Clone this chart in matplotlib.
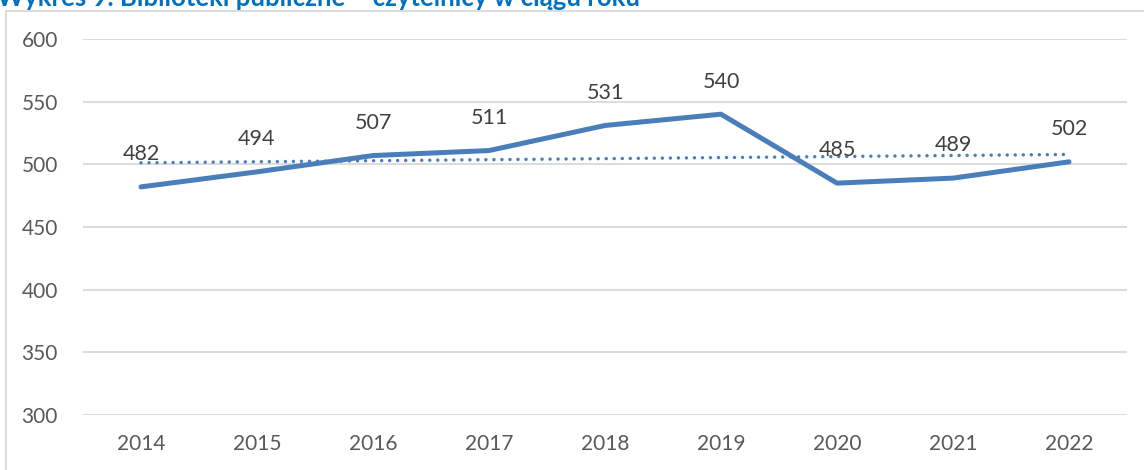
import matplotlib.pyplot as plt
import numpy as np
from matplotlib.patches import Rectangle

# dane z wykresu
years = ["2014", "2015", "2016", "2017", "2018", "2019", "2020", "2021", "2022"]
readers = [482, 494, 507, 511, 531, 540, 485, 489, 502]
title = "Wykres 9. Biblioteki publiczne – czytelnicy w ciągu roku"

plt.rcParams['font.family'] = ['Lato', 'DejaVu Sans']

fig = plt.figure(figsize=(11.44, 4.70), dpi=100)
ax = fig.add_axes([83 / 1144, 1 - 415 / 470, 1044 / 1144, 376 / 470])

x = np.arange(len(years))
line_color = "#4A7EBB"

# linia trendu (liniowa, jak w Excelu)
coef = np.polyfit(x, readers, 1)
ax.plot(x, np.polyval(coef, x), color=line_color, lw=2.5, linestyle=(0, (0.01, 2.3)),
        dash_capstyle="round", zorder=2)

ax.plot(x, readers, color=line_color, lw=3.6, solid_capstyle="round",
        solid_joinstyle="round", zorder=3)

for xi, v in zip(x, readers):
    ax.annotate(str(v), (xi, v), xytext=(0, 23.5), textcoords="offset points",
                ha="center", va="center", fontsize=15.5, color="#404040", zorder=4)

ax.set_xlim(-0.5, len(years) - 0.5)
ax.set_ylim(300, 600)
ax.set_yticks(range(300, 601, 50))
ax.set_xticks(x)
ax.set_xticklabels(years)
ax.tick_params(length=0, labelsize=15, labelcolor="#595959")
ax.tick_params(axis="y", pad=18)
ax.tick_params(axis="x", pad=14)
ax.grid(axis="y", color="#D9D9D9", lw=1.3)
ax.set_axisbelow(True)
for s in ax.spines.values():
    s.set_visible(False)

# ramka obszaru wykresu
fig.patches.append(Rectangle((6 / 1144, -0.2), 1.2, 1.2 - 10.5 / 470, transform=fig.transFigure,
                             fill=False, edgecolor="#D9D9D9", lw=1.3))

# tytuł (ucięty u góry jak w oryginale)
fig.text(-3 / 1144, 1 - 6 / 470, title, fontsize=18.5, fontweight="bold", color="#0070C0",
         ha="left", va="baseline")

fig.savefig("out.png", dpi=100)
